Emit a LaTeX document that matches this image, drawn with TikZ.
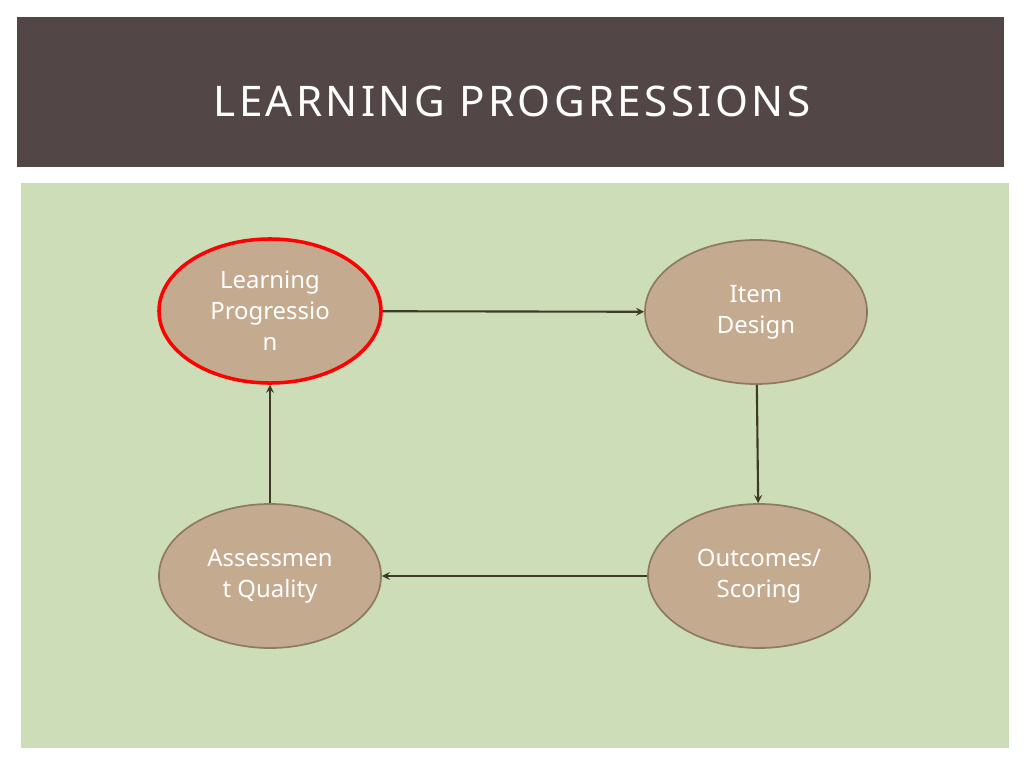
\documentclass[tikz,border=0pt]{standalone}
\usepackage{fontspec}
\setmainfont{Noto Sans}
\usetikzlibrary{shapes.geometric}
\definecolor{band}{HTML}{524746}
\definecolor{panel}{HTML}{CCDDB8}
\definecolor{blob}{HTML}{C4AA8F}
\definecolor{blobedge}{HTML}{8C7A62}
\definecolor{arr}{HTML}{3F3A26}
\tikzset{
  stage/.style={ellipse,fill=blob,draw=blobedge,line width=1.2pt,minimum width=5.55cm,minimum height=3.6cm,
    text=white,font=\fontsize{17}{22}\selectfont,align=center,inner sep=0pt},
  flow/.style={draw=arr,line width=1.5pt,-stealth}
}
\begin{document}
\begin{tikzpicture}[x=0.025cm,y=-0.025cm]
  \useasboundingbox (0,0) rectangle (1024,768);
  \fill[white] (0,0) rectangle (1024,768);
  \fill[band] (17,17) rectangle (1004,167);
  \node[text=white,font=\fontsize{30}{36}\selectfont\addfontfeature{LetterSpace=8}] (title) at (512,101) {LEARNING PROGRESSIONS};
  \fill[panel] (21,183) rectangle (1009,748);
  \node[stage,draw=red,line width=2.5pt] (lp) at (270,311) {Learning\\Progressio\\n};
  \node[stage] (item) at (756,312) {Item\\Design};
  \node[stage] (out) at (759,576) {Outcomes/\\Scoring};
  \node[stage] (aq) at (270,576) {Assessmen\\t Quality};
  \draw[flow] (lp) -- (item);
  \draw[flow] (item) -- (out);
  \draw[flow] (out) -- (aq);
  \draw[flow] (aq) -- (lp);
\end{tikzpicture}
\end{document}
